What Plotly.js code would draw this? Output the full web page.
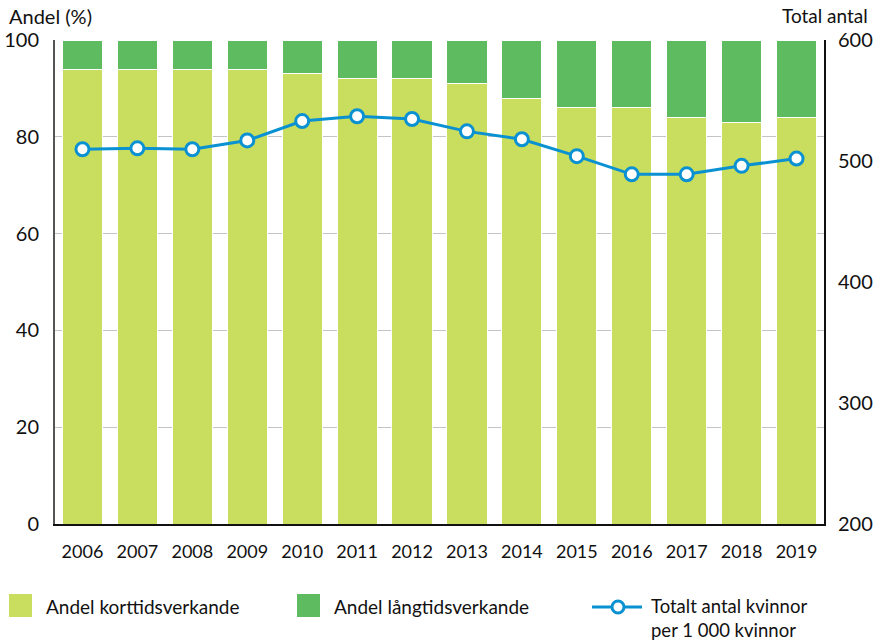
<!DOCTYPE html>
<html>
<head>
<meta charset="utf-8">
<script src="https://cdn.plot.ly/plotly-3.0.1.min.js"></script>
<style>html,body{margin:0;padding:0;background:#fff;}#chart{width:873px;height:641px;}</style>
</head>
<body>
<div id="chart"></div>
<script>
const years = ["2006","2007","2008","2009","2010","2011","2012","2013","2014","2015","2016","2017","2018","2019"];
const andelKorttid = [94, 94, 94, 94, 93, 92, 92, 91, 88, 86, 86, 84, 83, 84];
const andelLangtid = [6, 6, 6, 6, 7, 8, 8, 9, 12, 14, 14, 16, 17, 16];
const totaltAntal = [509.7, 510.5, 509.7, 517, 533, 537, 534.7, 524.5, 518, 504, 489, 489, 496, 502];

const seriesNames = ["Andel korttidsverkande", "Andel långtidsverkande", "Totalt antal kvinnor<br>per 1 000 kvinnor"];
const leftTicks = [0, 20, 40, 60, 80, 100];
const rightTicks = [200, 300, 400, 500, 600];

const colShort = "#c9dd5f";
const colLong = "#5ebb5f";
const colLine = "#0a91d2";
const FONT = "Lato, 'Open Sans', sans-serif";

const W = 873, H = 641;
const M = {l: 55, r: 49, t: 40, b: 117};
const pw = W - M.l - M.r, ph = H - M.t - M.b;
const px = x => (x - M.l) / pw;
const py = y => (H - M.b - y) / ph;

const traces = [
  {type: "bar", x: years, y: andelKorttid, name: seriesNames[0], marker: {color: colShort, line: {color: "#fff", width: 1}}, yaxis: "y", showlegend: false, hoverinfo: "x+y"},
  {type: "bar", x: years, y: andelLangtid, name: seriesNames[1], marker: {color: colLong, line: {color: "#fff", width: 1}}, yaxis: "y", showlegend: false, hoverinfo: "x+y"},
  {type: "scatter", mode: "lines+markers", x: years, y: totaltAntal, name: seriesNames[2], yaxis: "y2",
   line: {color: colLine, width: 3}, marker: {size: 13, color: "#fff", line: {color: colLine, width: 3}}, showlegend: false}
];

const shapes = [
  {type: "rect", xref: "paper", yref: "paper", x0: px(9), x1: px(32), y0: py(617), y1: py(594), fillcolor: colShort, line: {width: 0}},
  {type: "rect", xref: "paper", yref: "paper", x0: px(297), x1: px(320), y0: py(617), y1: py(594), fillcolor: colLong, line: {width: 0}},
  {type: "line", xref: "paper", yref: "paper", x0: px(592), x1: px(642), y0: py(607), y1: py(607), line: {color: colLine, width: 3}},
  {type: "circle", xref: "paper", yref: "paper", x0: px(612), x1: px(624), y0: py(613), y1: py(601), fillcolor: "#fff", line: {color: colLine, width: 3}}
];

const annotations = [
  {xref: "paper", yref: "paper", x: px(7), y: py(16), text: "Andel (%)", showarrow: false, xanchor: "left", yanchor: "middle", font: {family: FONT, size: 20, color: "#111"}},
  {xref: "paper", yref: "paper", x: px(870), y: py(16), text: "Total antal", showarrow: false, xanchor: "right", yanchor: "middle", font: {family: FONT, size: 19, color: "#111"}},
  {xref: "paper", yref: "paper", x: px(44), y: py(606), text: seriesNames[0], showarrow: false, xanchor: "left", yanchor: "middle", font: {family: FONT, size: 19, color: "#111"}},
  {xref: "paper", yref: "paper", x: px(332), y: py(606), text: seriesNames[1], showarrow: false, xanchor: "left", yanchor: "middle", font: {family: FONT, size: 19, color: "#111"}},
  {xref: "paper", yref: "paper", x: px(649), y: py(618), text: seriesNames[2], showarrow: false, xanchor: "left", yanchor: "middle", align: "left", font: {family: FONT, size: 18.5, color: "#111"}}
];

const layout = {
  width: W, height: H,
  margin: M,
  paper_bgcolor: "#fff", plot_bgcolor: "#fff",
  barmode: "stack", bargap: 0.27,
  font: {family: FONT, color: "#111"},
  showlegend: false,
  xaxis: {type: "category", range: [-0.5, years.length - 0.5], showline: true, linecolor: "#111", linewidth: 2, ticks: "", tickfont: {family: FONT, size: 18, color: "#111"}, ticklabelstandoff: 10, showgrid: false, zeroline: false},
  yaxis: {range: [0, 100], tickvals: leftTicks, ticktext: leftTicks.map(String), showline: true, linecolor: "#555", linewidth: 2, gridcolor: "#c4c4c4", gridwidth: 1, zeroline: false, ticks: "", tickfont: {family: FONT, size: 20, color: "#111"}, ticklabelstandoff: 10},
  yaxis2: {range: [200, 600], tickvals: rightTicks, ticktext: rightTicks.map(String), overlaying: "y", side: "right", showline: true, linecolor: "#111", linewidth: 2, showgrid: false, zeroline: false, ticks: "", tickfont: {family: FONT, size: 20, color: "#111"}, ticklabelstandoff: 8},
  shapes: shapes,
  annotations: annotations
};

Plotly.newPlot("chart", traces, layout, {displayModeBar: false, staticPlot: true});
</script>
</body>
</html>
